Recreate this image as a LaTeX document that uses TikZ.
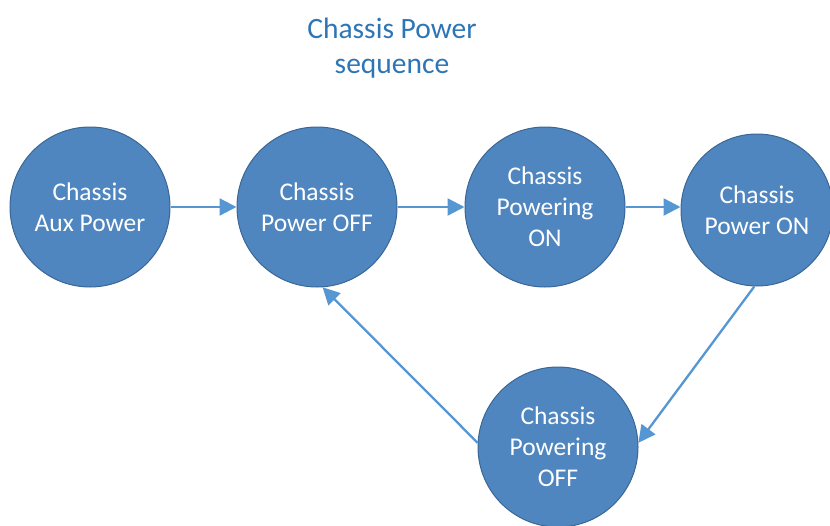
\documentclass[tikz,border=0pt]{standalone}
\usepackage{fontspec}
\setmainfont{Carlito}
\usetikzlibrary{arrows.meta}
\definecolor{circfill}{RGB}{79,134,191}
\definecolor{circborder}{RGB}{58,103,150}
\definecolor{arrowcol}{RGB}{86,150,210}
\definecolor{titlecol}{RGB}{46,117,182}
\begin{document}
\begin{tikzpicture}[x=1pt,y=-1pt,
  state/.style={circle, fill=circfill, draw=circborder, line width=1pt,
    minimum size=#1, inner sep=0pt, text=white, align=center,
    font=\fontsize{25.5}{31}\selectfont},
  state/.default=160pt,
  conn/.style={draw=arrowcol, line width=2.3pt,
    -{Triangle[length=17pt,width=17pt]}}]
\useasboundingbox (0,0) rectangle (830,525);
\node[text=titlecol, align=center, font=\fontsize{29.5}{35}\selectfont] (title) at (392,48) {Chassis Power\\sequence};
\node[state] (aux) at (90,207) {Chassis\\Aux Power};
\node[state] (poff) at (317,207) {Chassis\\Power OFF};
\node[state] (pgon) at (545,207) {Chassis\\Powering\\ON};
\node[state=152pt] (pon) at (757,210) {Chassis\\Power ON};
\node[state] (pgoff) at (558,447) {Chassis\\Powering\\OFF};
\draw[conn] (aux.east) -- (poff.west);
\draw[conn] (poff.east) -- (pgon.west);
\draw[conn] (pgon.east) -- (pgon.east -| pon.west);
\draw[conn] (pon.268) -- (pgoff.3);
\draw[conn] (pgoff.177) -- (poff.-86);
\end{tikzpicture}
\end{document}
